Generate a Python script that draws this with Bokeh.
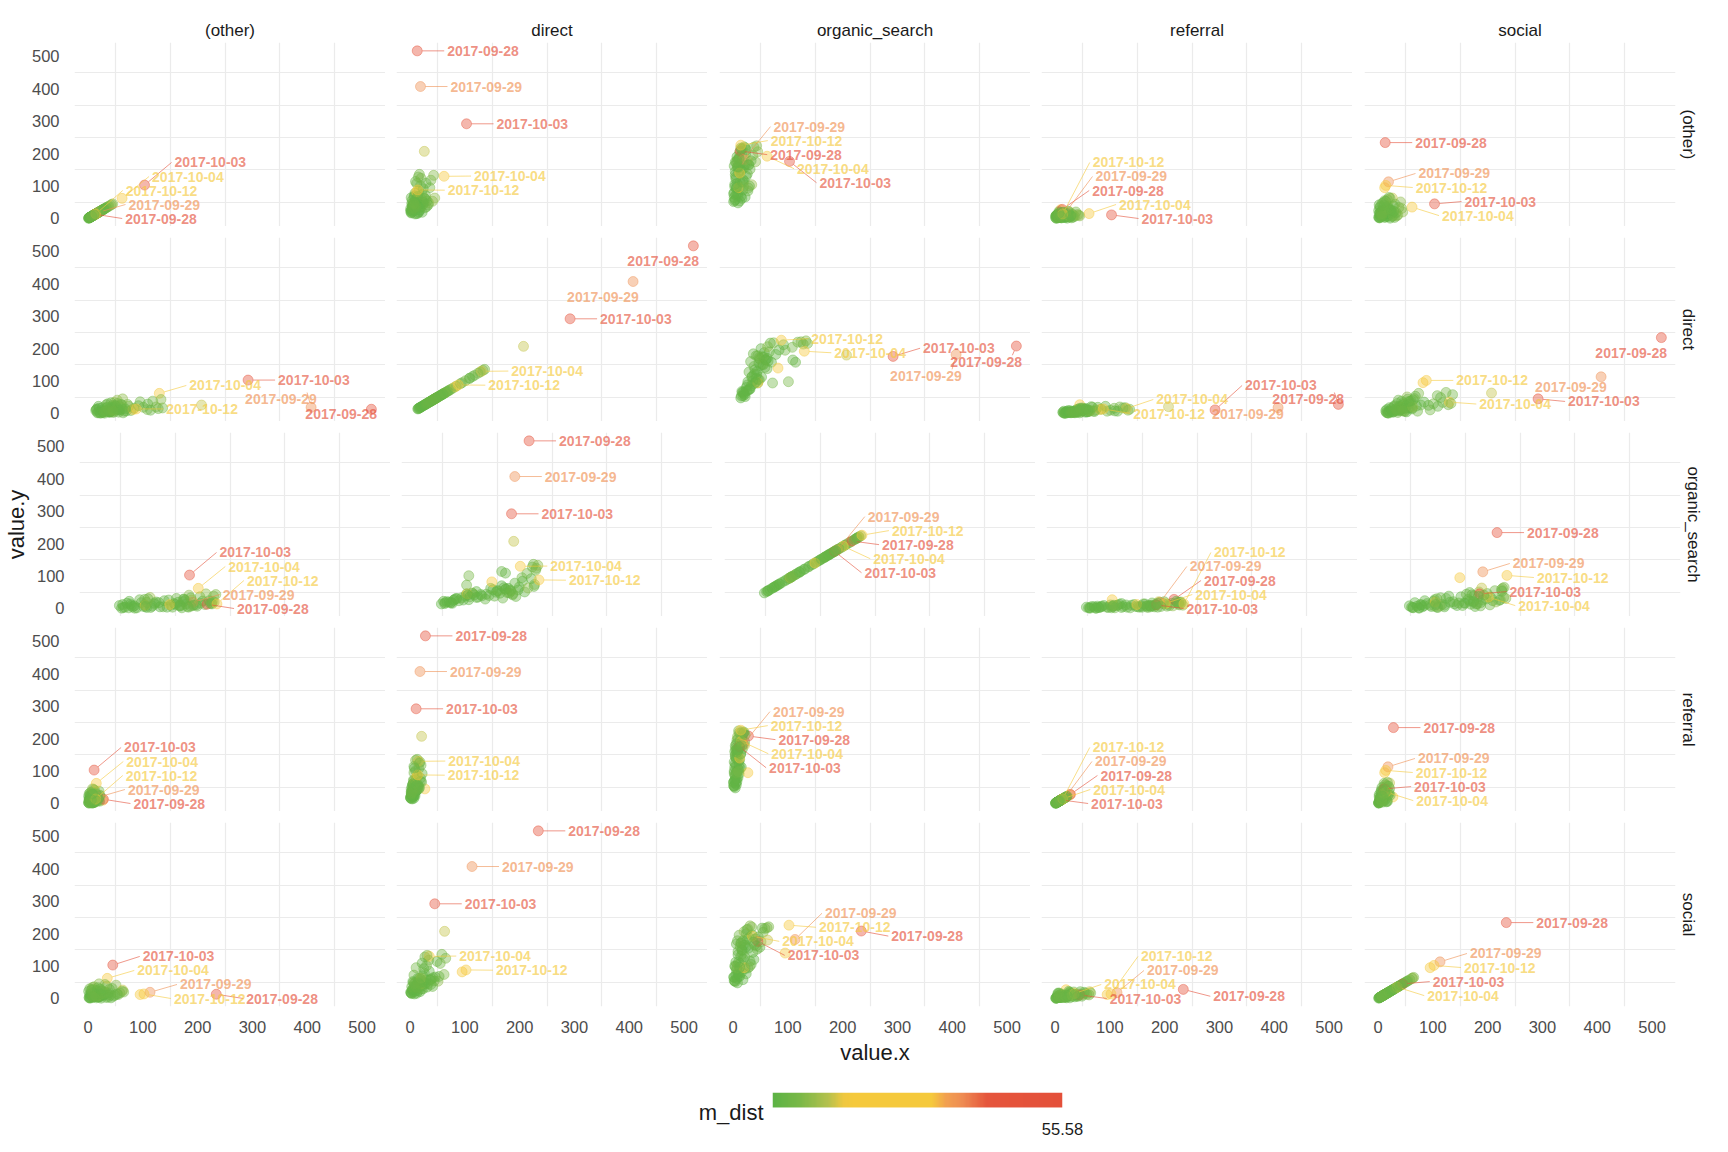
import numpy as np
import pandas as pd
from bokeh.plotting import figure
from bokeh.layouts import column, row
from bokeh.models import (Range1d, FixedTicker, Grid, Title, LinearColorMapper,
                          ColumnDataSource)
from bokeh.transform import transform
from bokeh.core.properties import value
from bokeh.embed import file_html
from bokeh.resources import INLINE

# ---------------- data (daily sessions per channel) ----------------
channels = ["(other)", "direct", "organic_search", "referral", "social"]
start_date = "2017-07-28"

other = [3, 9, 1, 14, 5, 22, 2, 8, 12, 4,
         18, 6, 27, 3, 11, 16, 2, 7, 20, 34,
         5, 13, 9, 1, 24, 10, 4, 10, 15, 30,
         6, 19, 2, 12, 25, 8, 17, 3, 21, 41,
         9, 14, 28, 5, 18, 11, 36, 7, 23, 16,
         4, 26, 12, 26, 19, 12, 45, 8, 31, 15,
         22, 38, 13, 19, 6, 28, 17, 103, 62, 24,
         10, 33, 4, 20, 43, 14, 14, 29, 11, 7]
direct = [18, 14, 22, 16, 28, 19, 24, 31, 15, 21,
          26, 38, 33, 27, 45, 20, 17, 42, 35, 48,
          39, 52, 25, 30, 44, 58, 40, 45, 50, 36,
          41, 47, 64, 55, 49, 70, 34, 46, 59, 53,
          78, 62, 72, 29, 43, 57, 95, 66, 51, 84,
          38, 62, 108, 207, 101, 82, 63, 32, 54, 128,
          74, 118, 517, 407, 48, 60, 136, 292, 130, 92,
          114, 42, 56, 124, 133, 68, 88, 109, 37, 45]
organic_search = [55, 48, 52, 68, 72, 66, 80, 75, 54, 58,
                  88, 92, 85, 98, 94, 62, 65, 108, 115, 104,
                  122, 112, 70, 76, 130, 142, 135, 95, 148, 100,
                  96, 155, 162, 150, 168, 158, 112, 105, 165, 175,
                  182, 170, 94, 128, 120, 188, 195, 190, 200, 196,
                  145, 138, 204, 180, 98, 140, 206, 160, 152, 214,
                  218, 220, 208, 182, 172, 166, 216, 176, 192, 212,
                  158, 178, 174, 221, 224, 217, 226, 165, 184, 178]
referral = [1, 4, 2, 7, 3, 1, 9, 5, 2, 6,
            3, 11, 4, 8, 2, 5, 1, 13, 6, 9,
            4, 15, 3, 7, 10, 5, 12, 27, 8, 2,
            6, 14, 9, 4, 17, 7, 3, 10, 5, 12,
            19, 8, 6, 2, 11, 15, 7, 21, 9, 13,
            4, 6, 16, 21, 10, 12, 8, 3, 14, 18,
            11, 20, 28, 18, 5, 9, 13, 11, 15, 22,
            7, 4, 12, 17, 10, 19, 14, 8, 6, 16]
social = [2, 8, 4, 12, 5, 1, 15, 9, 3, 18,
          6, 22, 10, 4, 27, 7, 2, 13, 31, 8,
          19, 5, 11, 24, 14, 36, 9, 20, 17, 3,
          12, 28, 42, 16, 6, 23, 10, 33, 19, 51,
          26, 14, 7, 21, 38, 29, 11, 46, 24, 35,
          9, 17, 55, 63, 30, 95, 20, 13, 44, 27,
          62, 34, 234, 113, 15, 39, 58, 45, 35, 25,
          49, 18, 37, 65, 31, 53, 102, 22, 41, 8]
m_dist = [3.1, 2.8, 3.3, 2.6, 2.4, 3.0, 2.9, 2.2, 3.2, 2.7,
          2.5, 2.9, 4.1, 2.8, 3.6, 2.6, 3.4, 2.3, 3.5, 9.8,
          2.4, 2.7, 2.9, 3.1, 3.2, 3.0, 2.5, 17.2, 2.1, 4.6,
          2.6, 2.2, 3.7, 2.0, 3.8, 2.4, 3.3, 3.5, 2.1, 8.5,
          3.6, 2.3, 5.9, 3.9, 3.4, 2.6, 6.0, 4.4, 2.9, 3.0,
          4.3, 3.9, 6.2, 12.9, 6.8, 18.5, 9.1, 4.6, 4.8, 5.5,
          7.4, 6.5, 55.58, 36.4, 4.9, 4.2, 6.1, 44.2, 24.1, 3.7,
          3.9, 4.5, 3.8, 6.9, 8.0, 4.1, 22.7, 3.6, 4.7, 5.0]

axis_ticks = [0, 100, 200, 300, 400, 500]
grid_breaks = [50, 150, 250, 350, 450]
colorbar_breaks = [55.58]
legend_title = "m_dist"
n_labels = 5

series = {"(other)": other, "direct": direct, "organic_search": organic_search,
          "referral": referral, "social": social}
dates = pd.date_range(start_date, periods=len(direct), freq="D").strftime("%Y-%m-%d").tolist()

# ---------------- style ----------------
FONT = "Liberation Sans"
FW, FH = 311, 184
left_border = [74, 11, 12, 11, 12]
right_border_last = 37
top_border_first = 42
row_gap = 11
bottom_border_last = 58

stops = [(0.00, "#5db345"), (0.09, "#79b847"), (0.19, "#b4c14d"), (0.24, "#eec840"),
         (0.28, "#f5c93c"), (0.55, "#f5c93c"), (0.60, "#f2a050"), (0.66, "#ee8a52"),
         (0.74, "#e5553c"), (1.00, "#e4503a")]


def build_palette(stops, n=256):
    pos = np.array([s[0] for s in stops])
    rgb = np.array([[int(c[1:3], 16), int(c[3:5], 16), int(c[5:7], 16)] for _, c in stops], float)
    out = []
    for v in np.linspace(0, 1, n):
        r = np.interp(v, pos, rgb[:, 0]); g = np.interp(v, pos, rgb[:, 1]); b = np.interp(v, pos, rgb[:, 2])
        out.append("#%02x%02x%02x" % (int(round(r)), int(round(g)), int(round(b))))
    return out


mlo, mhi = min(m_dist), max(m_dist)
mapper = LinearColorMapper(palette=build_palette(stops), low=mlo, high=mhi)

all_vals = np.concatenate([np.asarray(v, float) for v in series.values()])
lo, hi = all_vals.min(), all_vals.max()
pad = 0.05 * (hi - lo)
rmin, rmax = lo - pad, hi + pad

label_idx = list(np.argsort(m_dist)[::-1][:n_labels])


def repel(px, py, W, H, tw=72.0, th=14.0, gap=30.0):
    n = len(px)
    lx = np.empty(n); ly = np.empty(n); flip = np.zeros(n, dtype=bool)
    for i in range(n):
        if px[i] + gap + tw <= W - 2:
            lx[i] = px[i] + gap; ly[i] = py[i]
        else:
            flip[i] = True
            lx[i] = min(px[i] + 6, W - 2) - tw
            ly[i] = py[i] - 15
    order = np.argsort(py, kind="stable")
    for _ in range(300):
        moved = False
        for a in range(n):
            for b in range(a + 1, n):
                i, j = order[a], order[b]
                if lx[i] < lx[j] + tw and lx[j] < lx[i] + tw:
                    d = ly[j] - ly[i]
                    if abs(d) < th - 0.01:
                        push = (th - abs(d)) / 2.0 + 0.05
                        s = 1.0 if d >= 0 else -1.0
                        ly[j] += s * push; ly[i] -= s * push
                        moved = True
        ly = np.clip(ly, th / 2 + 1, H - th / 2 - 1)
        if not moved:
            break
    return lx, ly, flip


def style_axis(ax):
    ax.ticker = FixedTicker(ticks=axis_ticks)
    ax.major_label_text_font = FONT
    ax.major_label_text_font_size = "16.5px"
    ax.major_label_text_color = "#4d4d4d"
    ax.major_tick_line_color = None
    ax.minor_tick_line_color = None
    ax.axis_line_color = None
    ax.axis_label_text_font = FONT
    ax.axis_label_text_font_size = "22px"
    ax.axis_label_text_font_style = "normal"
    ax.axis_label_text_color = "#1a1a1a"


rows = []
for r, rch in enumerate(channels):
    figs = []
    for c, cch in enumerate(channels):
        xs = list(series[rch]); ys = list(series[cch])
        p = figure(frame_width=FW, frame_height=FH,
                   x_range=Range1d(rmin, rmax), y_range=Range1d(rmin, rmax),
                   x_axis_location="below" if r == 4 else None,
                   y_axis_location="left" if c == 0 else None,
                   toolbar_location=None, output_backend="svg",
                   min_border_left=left_border[c],
                   min_border_right=right_border_last if c == 4 else 0,
                   min_border_top=top_border_first if r == 0 else row_gap,
                   min_border_bottom=bottom_border_last if r == 4 else 0)
        p.outline_line_color = None
        p.background_fill_color = "white"
        p.border_fill_color = "white"
        p.center = [x for x in p.center if not isinstance(x, Grid)]
        p.add_layout(Grid(dimension=0, ticker=FixedTicker(ticks=grid_breaks),
                          grid_line_color="#ebebeb", grid_line_width=1.2))
        p.add_layout(Grid(dimension=1, ticker=FixedTicker(ticks=grid_breaks),
                          grid_line_color="#ebebeb", grid_line_width=1.2))
        if r == 4:
            style_axis(p.xaxis[0])
            p.xaxis[0].major_label_standoff = 8
            if c == 2:
                p.xaxis[0].axis_label = "value.x"
                p.xaxis[0].axis_label_standoff = 4
        if c == 0:
            style_axis(p.yaxis[0])
            p.yaxis[0].major_label_standoff = 9
            if r == 2:
                p.yaxis[0].axis_label = "value.y"
                p.yaxis[0].axis_label_standoff = 5
        if r == 0:
            p.add_layout(Title(text=cch, align="center", text_font=FONT, text_font_size="17px",
                               text_font_style="normal", text_color="#1a1a1a", standoff=5), "above")
        if c == 4:
            p.add_layout(Title(text=rch, align="center", text_font=FONT, text_font_size="17px",
                               text_font_style="normal", text_color="#1a1a1a", standoff=7), "right")

        src = ColumnDataSource(dict(x=xs, y=ys, m=m_dist))
        p.scatter("x", "y", source=src, marker="circle", size=10,
                  fill_color=transform("m", mapper), line_color=transform("m", mapper),
                  fill_alpha=0.42, line_alpha=0.42, line_width=1)

        # repelled date labels for the highest m_dist days
        sx = FW / (rmax - rmin); sy = FH / (rmax - rmin)
        px = np.array([(xs[i] - rmin) * sx for i in label_idx])
        py = np.array([(ys[i] - rmin) * sy for i in label_idx])
        lx, ly, flip = repel(px, py, FW, FH)
        tx, ty, lm, lt = [], [], [], []
        x0, y0, x1, y1, sm = [], [], [], [], []
        for k, i in enumerate(label_idx):
            tx.append(rmin + lx[k] / sx); ty.append(rmin + ly[k] / sy)
            lm.append(m_dist[i]); lt.append(dates[i])
            if flip[k]:
                ex, ey = lx[k] + 62, ly[k] + 7
            else:
                ex, ey = lx[k] - 3, ly[k]
            dx, dy = ex - px[k], ey - py[k]
            dist = np.hypot(dx, dy)
            if dist > 9:
                ux, uy = dx / dist, dy / dist
                x0.append(rmin + (px[k] + 5 * ux) / sx); y0.append(rmin + (py[k] + 5 * uy) / sy)
                x1.append(rmin + ex / sx); y1.append(rmin + ey / sy)
                sm.append(m_dist[i])
        seg = ColumnDataSource(dict(x0=x0, y0=y0, x1=x1, y1=y1, m=sm))
        p.segment("x0", "y0", "x1", "y1", source=seg, line_color=transform("m", mapper),
                  line_alpha=0.6, line_width=1)
        lab = ColumnDataSource(dict(x=tx, y=ty, m=lm, t=lt))
        p.text("x", "y", text="t", source=lab, text_font=value(FONT), text_font_style="bold",
               text_font_size="14px", text_align="left", text_baseline="middle",
               text_color=transform("m", mapper), text_alpha=0.65)
        figs.append(p)
    rows.append(row(*figs))

# ---------------- colour bar legend ----------------
# bar occupies y in [0, 1]; the frame extends a little below it for the title tick
leg_ymin = -0.47
title_pos = -0.33
leg = figure(frame_width=290, frame_height=22, x_range=Range1d(mlo, mhi),
             y_range=Range1d(leg_ymin, 1),
             x_axis_location="below", y_axis_location="left", toolbar_location=None,
             output_backend="svg", min_border_left=772, min_border_right=40,
             min_border_top=25, min_border_bottom=22)
leg.outline_line_color = None
leg.grid.visible = False
grad = np.linspace(mlo, mhi, 300).reshape(1, -1)
leg.image(image=[grad], x=mlo, y=0, dw=mhi - mlo, dh=1, color_mapper=mapper)
ax = leg.xaxis[0]
ax.ticker = FixedTicker(ticks=colorbar_breaks)
ax.major_label_overrides = {b: "%.2f" % b for b in colorbar_breaks}
ax.major_label_text_font = FONT
ax.major_label_text_font_size = "16.5px"
ax.major_label_text_color = "#1a1a1a"
ax.major_tick_line_color = None
ax.minor_tick_line_color = None
ax.axis_line_color = None
ax.major_label_standoff = 2
ay = leg.yaxis[0]
ay.ticker = FixedTicker(ticks=[title_pos])
ay.major_label_overrides = {title_pos: legend_title}
ay.major_label_text_font = FONT
ay.major_label_text_font_size = "22px"
ay.major_label_text_color = "#1a1a1a"
ay.major_tick_line_color = None
ay.minor_tick_line_color = None
ay.axis_line_color = None
ay.major_label_standoff = 3

layout = column(*rows, leg)
open("out.html", "w").write(file_html(layout, INLINE))
